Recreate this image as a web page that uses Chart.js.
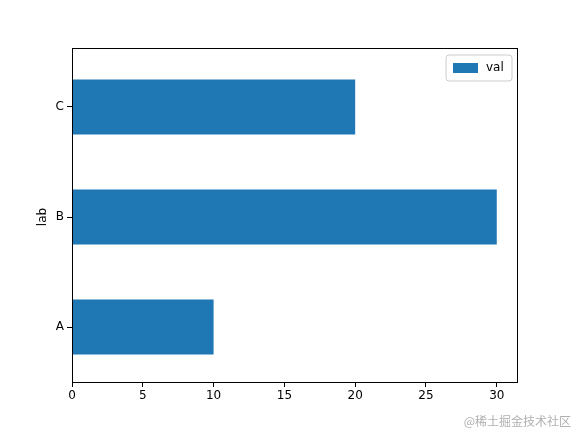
<!DOCTYPE html>
<html>
<head>
<meta charset="utf-8">
<script src="https://cdn.jsdelivr.net/npm/chart.js@4"></script>
<style>
  body { margin: 0; background: #fff; }
  #wrap { width: 576px; height: 432px; }
</style>
</head>
<body>
<div id="wrap"><canvas id="c" width="576" height="432"></canvas></div>
<script>
const categories = ['A', 'B', 'C'];
const values = [10, 30, 20];
const xTicks = [0, 5, 10, 15, 20, 25, 30];
const seriesName = 'val';
const axisName = 'lab';
const barColor = '#1f77b4';
const FONT = 'DejaVu Sans, sans-serif';

// frame (with a small top margin like matplotlib), legend and watermark
const extras = {
    id: 'extras',
    afterDraw(chart) {
        const { ctx, chartArea: a } = chart;
        const top = a.top - 4;
        ctx.save();
        ctx.strokeStyle = '#000';
        ctx.lineWidth = 1;
        ctx.strokeRect(a.left + 0.5, top + 0.5, a.right - a.left - 1, a.bottom - top);

        const w = 66, h = 26;
        const lx = a.right - w - 6, ly = top + 7;
        ctx.fillStyle = 'rgba(255,255,255,0.8)';
        ctx.strokeStyle = '#cccccc';
        ctx.beginPath();
        ctx.roundRect(lx, ly, w, h, 3);
        ctx.fill();
        ctx.stroke();
        ctx.fillStyle = barColor;
        ctx.fillRect(lx + 7, ly + 8, 25, 10);
        ctx.fillStyle = '#000';
        ctx.font = '12px ' + FONT;
        ctx.textBaseline = 'middle';
        ctx.fillText(seriesName, lx + 40, ly + 13);

        ctx.fillStyle = '#b0b0b0';
        ctx.font = '12px "Noto Sans CJK SC", sans-serif';
        ctx.textAlign = 'right';
        ctx.fillText('@稀土掘金技术社区', 571, 421);
        ctx.restore();
    }
};

new Chart(document.getElementById('c'), {
    type: 'bar',
    data: {
        labels: categories,
        datasets: [{
            label: seriesName,
            data: values,
            backgroundColor: barColor,
            barPercentage: 0.5,
            categoryPercentage: 1.0
        }]
    },
    options: {
        indexAxis: 'y',
        responsive: false,
        animation: false,
        layout: { padding: { top: 52, right: 58, left: 36, bottom: 0 } },
        plugins: { legend: { display: false }, tooltip: { enabled: false } },
        scales: {
            x: {
                min: 0, max: 31.5,
                afterBuildTicks: axis => { axis.ticks = xTicks.map(v => ({ value: v })); },
                afterFit: axis => { axis.height = 50; },
                grid: { drawOnChartArea: false, color: '#000', tickLength: 5 },
                border: { display: false },
                ticks: { color: '#000', font: { family: FONT, size: 12 }, padding: 2 }
            },
            y: {
                reverse: true,
                afterFit: axis => { axis.width = 36; },
                grid: { drawOnChartArea: false, offset: false, color: '#000', tickLength: 5 },
                border: { display: false },
                title: { display: true, text: axisName, color: '#000', font: { family: FONT, size: 12 }, padding: 0 },
                ticks: { color: '#000', font: { family: FONT, size: 12 }, padding: 3 }
            }
        }
    },
    plugins: [extras]
});
</script>
</body>
</html>
